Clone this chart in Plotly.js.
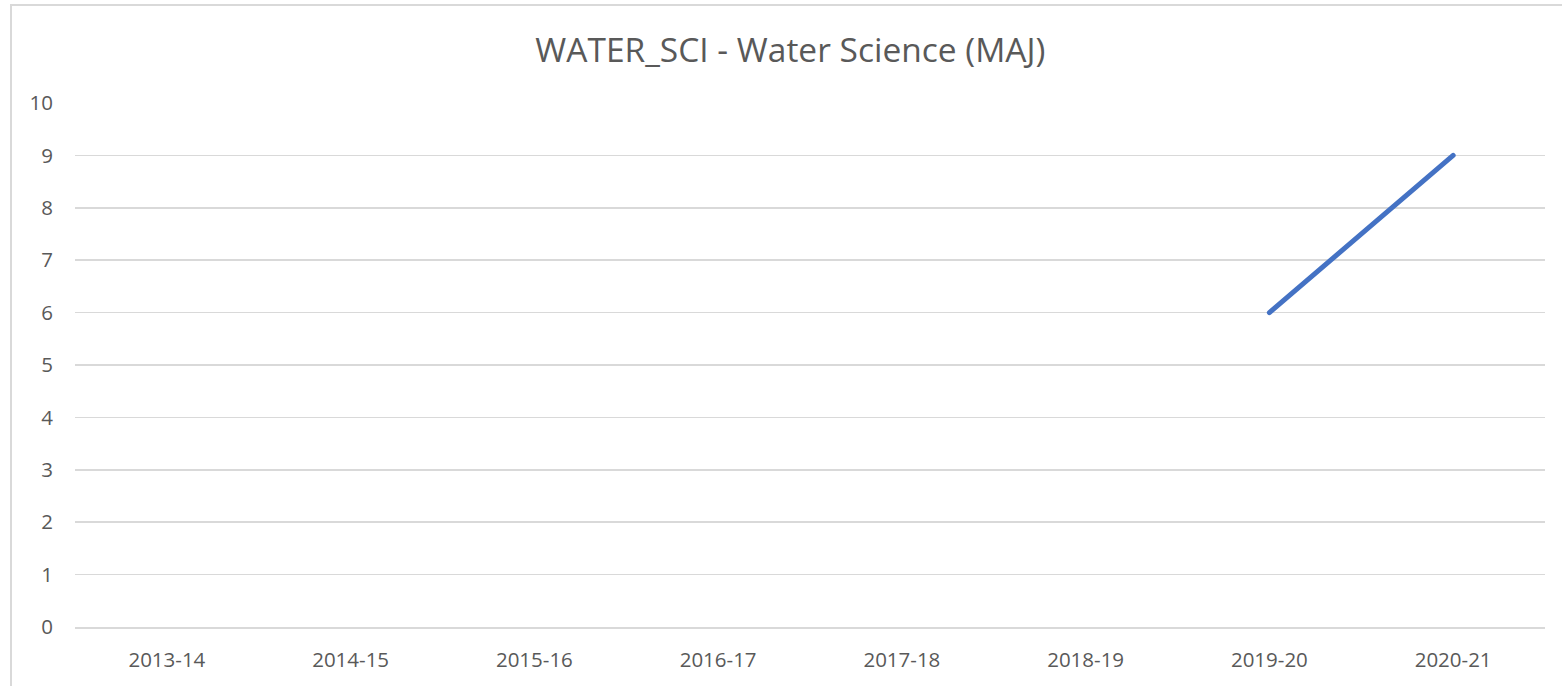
<!DOCTYPE html>
<html>
<head>
<meta charset="utf-8">
<script src="https://cdn.plot.ly/plotly-3.0.1.min.js"></script>
<style>
html,body{margin:0;padding:0;background:#fff;}
#wrap{position:relative;width:1562px;height:686px;overflow:hidden;}
#frame{position:absolute;left:10px;top:4px;width:1600px;height:760px;border:2px solid #d9d9d9;box-sizing:border-box;pointer-events:none;}
#chart{position:absolute;left:0;top:0;width:1562px;height:686px;}
path.js-line{stroke-linecap:round !important;stroke-linejoin:round !important;}
</style>
</head>
<body>
<div id="wrap">
<div id="chart"></div>
<div id="frame"></div>
</div>
<script>
const categories = ["2013-14","2014-15","2015-16","2016-17","2017-18","2018-19","2019-20","2020-21"];
const values = [null,null,null,null,null,null,6,9];
const yTicks = [0,1,2,3,4,5,6,7,8,9,10];

const trace = {
  x: categories,
  y: values,
  type: 'scatter',
  mode: 'lines',
  line: {color: '#4472C4', width: 5},
  connectgaps: false,
  hoverinfo: 'x+y'
};

const layout = {
  width: 1562,
  height: 686,
  margin: {l: 75, r: 17, t: 103, b: 59},
  paper_bgcolor: '#ffffff',
  plot_bgcolor: '#ffffff',
  showlegend: false,
  font: {family: '"Open Sans", sans-serif', color: '#595959', size: 20},
  title: {
    text: 'WATER_SCI - Water Science (MAJ)',
    font: {size: 33.5, color: '#595959', family: '"Open Sans", sans-serif'},
    x: 0.506, xanchor: 'center', y: 0.927, yanchor: 'middle'
  },
  xaxis: {
    type: 'category',
    categoryorder: 'array',
    categoryarray: categories,
    range: [-0.5, 7.5],
    showgrid: false,
    zeroline: false,
    showline: true,
    linecolor: '#d9d9d9',
    linewidth: 1.5,
    ticks: '',
    ticklabelstandoff: 14,
    tickfont: {size: 20.5, color: '#595959'}
  },
  yaxis: {
    range: [0, 10],
    tickmode: 'array',
    tickvals: yTicks,
    ticktext: yTicks.map(String),
    showgrid: true,
    gridcolor: '#d9d9d9',
    gridwidth: 1.5,
    zeroline: false,
    showline: false,
    ticks: '',
    ticklabelstandoff: 21,
    tickfont: {size: 20.5, color: '#595959'}
  }
};

Plotly.newPlot('chart', [trace], layout, {displayModeBar: false, staticPlot: true});
</script>
</body>
</html>
